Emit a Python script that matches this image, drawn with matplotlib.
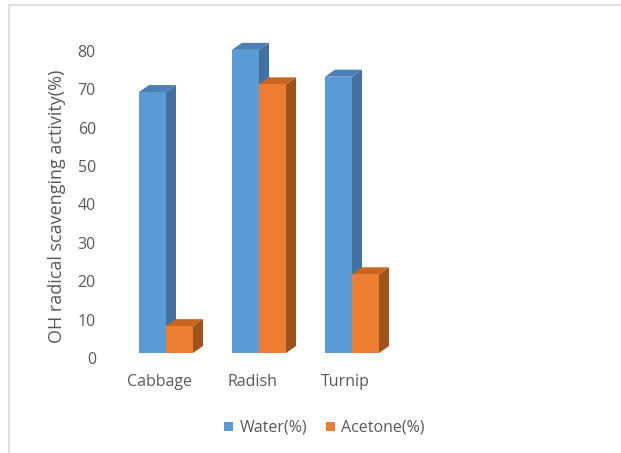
import matplotlib.pyplot as plt
from matplotlib.patches import Polygon, Rectangle, Patch
from matplotlib.transforms import ScaledTranslation

categories = ['Cabbage', 'Radish', 'Turnip']
water = [68.0, 79.0, 72.0]
acetone = [7.0, 70.0, 20.5]
yticks = [0, 10, 20, 30, 40, 50, 60, 70, 80]

W, H = 621, 453
plt.rcParams['font.family'] = ['Open Sans', 'DejaVu Sans']
text_col = '#595959'
fs = 11.5

fig = plt.figure(figsize=(W / 100, H / 100), dpi=100)

# grey frame of the chart area
fig.patches.append(Rectangle((9 / W, -0.1), 1.2, 1.1 - 5 / H, transform=fig.transFigure,
                             fill=False, edgecolor='#d9d9d9', linewidth=1.2))

# plot area in pixels: x 119.5..398.5, y 0 at 353, 80 at 46
ax = fig.add_axes([119.5 / W, (H - 353) / H, 279 / W, 307 / H])
ax.set_xlim(-0.5, 2.5)
ax.set_ylim(0, 80)
for s in ax.spines.values():
    s.set_visible(False)

px_x = 279 / 3.0
px_y = 307 / 80.0
dx = 10 / px_x
dy = 7 / px_y
bw = 27 / px_x

series = [
    (water, -bw / 2, '#5b9bd5', '#41719c', '#4a7fb8', 'Water(%)'),
    (acetone, bw / 2, '#ed7d31', '#a0521d', '#c8651f', 'Acetone(%)'),
]

z = 2
for i in range(len(categories)):
    for vals, off, front, side, top, lab in series:
        v = vals[i]
        xl = i + off - bw / 2
        xr = i + off + bw / 2
        ax.add_patch(Polygon([(xr, 0), (xr + dx, dy), (xr + dx, v + dy), (xr, v)],
                             closed=True, facecolor=side, edgecolor='none', zorder=z, clip_on=False))
        ax.add_patch(Polygon([(xl, v), (xl + dx, v + dy), (xr + dx, v + dy), (xr, v)],
                             closed=True, facecolor=top, edgecolor='none', zorder=z, clip_on=False))
        ax.bar(i + off, v, bw, color=front, zorder=z + 0.5, clip_on=False)
        z += 1

ax.set_xticks(range(len(categories)))
ax.set_xticklabels(categories, fontsize=fs, color=text_col)
ax.set_yticks(yticks)
ax.set_yticklabels([str(t) for t in yticks], fontsize=fs, color=text_col)
ax.tick_params(axis='x', length=0, pad=15)
ax.tick_params(axis='y', length=0, pad=17)
for lbl in ax.get_xticklabels():
    lbl.set_transform(lbl.get_transform() + ScaledTranslation(-0.07, 0, fig.dpi_scale_trans))
for lbl in ax.get_yticklabels():
    lbl.set_transform(lbl.get_transform() + ScaledTranslation(0, -0.05, fig.dpi_scale_trans))

ax.set_ylabel('OH radical scavenging activity(%)', fontsize=13, color=text_col)
ax.yaxis.set_label_coords(-0.19, 0.477)

handles = [Patch(facecolor=s[2], label=s[5]) for s in series]
fig.legend(handles=handles, loc='center', bbox_to_anchor=(324.5 / W, 1 - 428 / H), ncol=2,
           frameon=False, handlelength=0.55, handleheight=0.55, handletextpad=0.4,
           columnspacing=1.2, labelcolor=text_col, prop={'size': fs})

fig.savefig('out.png', dpi=100)
